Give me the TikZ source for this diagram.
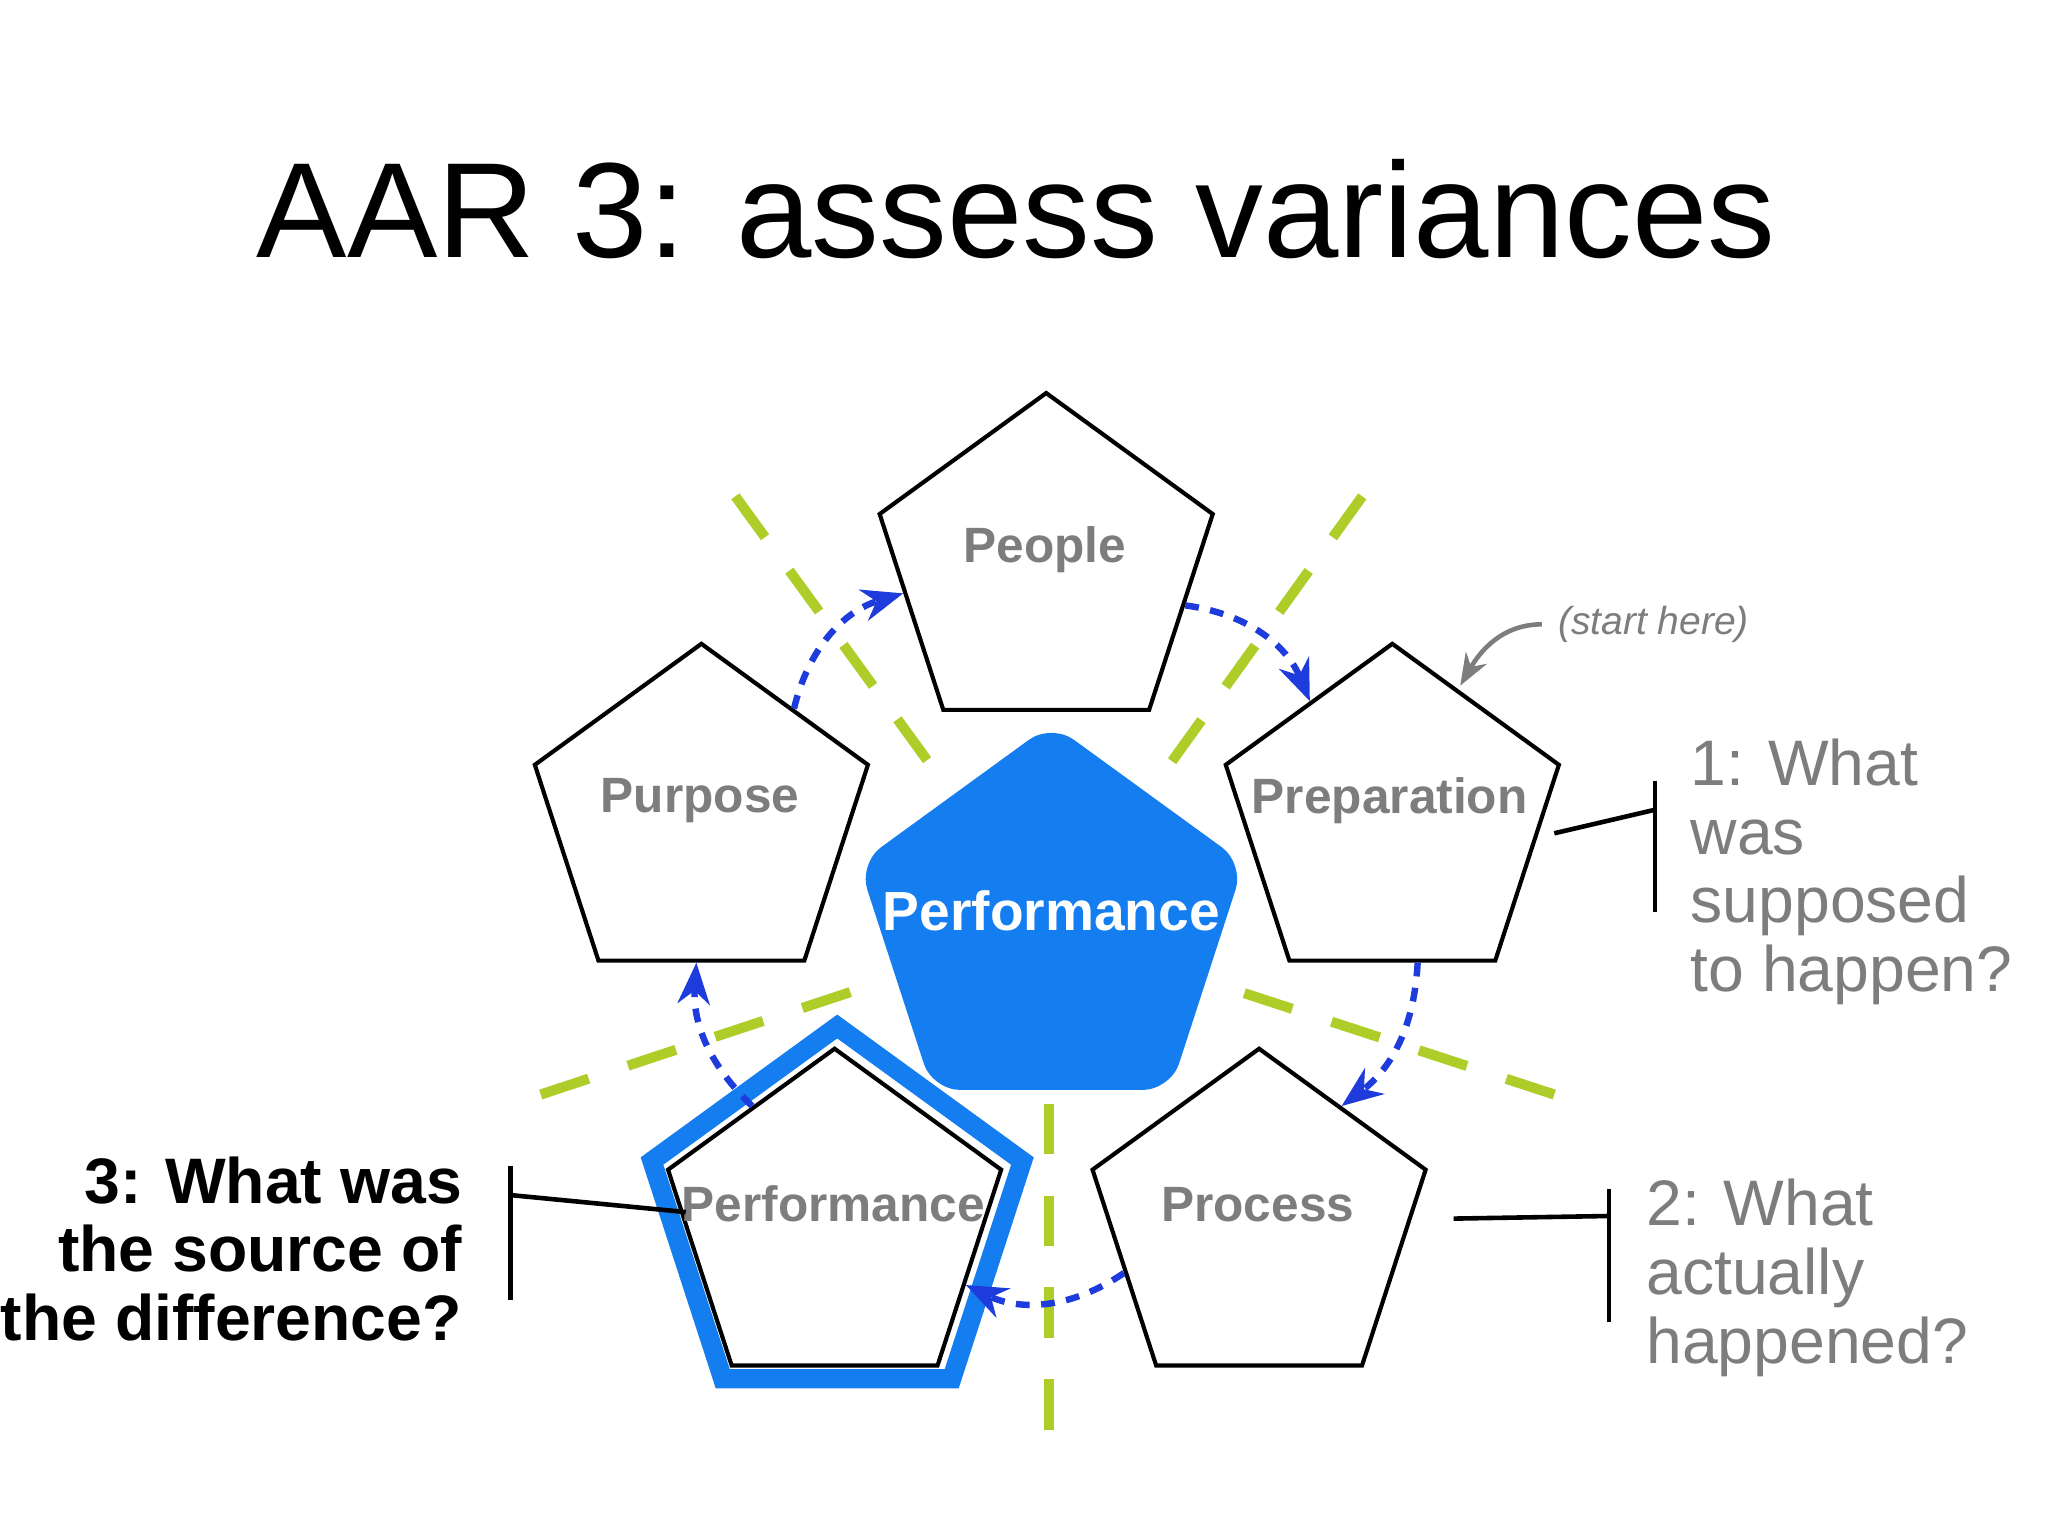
\documentclass[tikz,border=0pt]{standalone}
\usepackage{fontspec}
\setmainfont{Liberation Sans}
\usetikzlibrary{shapes.geometric,arrows.meta}
\definecolor{pblue}{RGB}{20,125,240}
\definecolor{ygreen}{RGB}{175,205,40}
\definecolor{dblue}{RGB}{30,60,220}
\definecolor{gtext}{RGB}{125,125,125}
\begin{document}
\begin{tikzpicture}[x=0.01cm,y=-0.01cm,
 pent/.style={draw=black,line width=0.9pt,regular polygon,regular polygon sides=5,inner sep=0pt,font=\fontsize{10.8}{12}\selectfont\bfseries,text=gtext},
 gl/.style={draw=ygreen,line width=2.2pt,dash pattern=on 11pt off 9pt},
 ba/.style={draw=dblue,line width=1.4pt,dash pattern=on 3pt off 2.5pt,-{Stealth[length=9pt,width=7pt]}},
 q/.style={font=\fontsize{14}{17}\selectfont,text=gtext,align=left,anchor=north west},
 br/.style={draw=black,line width=1pt}]
\useasboundingbox (0,0) rectangle (1568,1176);
\node[font=\fontsize{29.5}{34}\selectfont] (title) at (778,160) {AAR 3: assess variances};
% green lines
\draw[gl] (563,380) -- (728,607);
\draw[gl] (1043,380) -- (880,607);
\draw[gl] (414,838) -- (680,750);
\draw[gl] (1190,838) -- (930,753);
\draw[gl] (803,845) -- (803,1122);
% center
\node[regular polygon,regular polygon sides=5,fill=pblue,minimum size=3.1cm,inner sep=0pt,rounded corners=6pt] (center) at (805,709) {};
\node[text=white,font=\fontsize{12}{14}\selectfont\bfseries] (perfc) at (805,697) {Performance};
\node[pent,minimum size=2.68cm] (people) at (801,435) {};
\node[pent,minimum size=2.68cm] (purpose) at (537,627) {};
\node[pent,minimum size=2.68cm] (prep) at (1066,627) {};
\node[pent,minimum size=2.68cm] (process) at (964,937) {};
\node[pent,minimum size=2.68cm] (perf) at (639,937) {};
\node[regular polygon,regular polygon sides=5,draw=pblue,line width=4.2pt,minimum size=2.98cm,inner sep=0pt] (hl) at (641,935) {};
\node[pent,draw=none] (tpeople) at (800,421) {People};
\node[pent,draw=none] (tpurpose) at (536,613) {Purpose};
\node[pent,draw=none] (tprep) at (1064,613) {Preparation};
\node[pent,draw=none] (tprocess) at (963,922) {Process};
\node[pent,draw=none] (tperf) at (638,922) {Performance};
% blue arrows
\draw[ba] (purpose.50) to[bend left=30] (people.190);
\draw[ba] (people.-15) to[bend left=30] (prep.125);
\draw[ba] (prep.-80) to[bend left=25] (process.55);
\draw[ba] (process.200) to[bend left=30] (perf.-25);
\draw[ba] (perf.125) to[bend left=25] (purpose.-92);
% start here
\node[font=\fontsize{8.5}{10}\selectfont\itshape,text=gtext] (start) at (1266,478) {(start here)};
\draw[draw=gtext,line width=1pt,-{Stealth[length=7pt]}] (start.west) to[out=180,in=60] (1118,525);
% right questions
\coordinate (b1a) at (1267,598); \coordinate (b1b) at (1267,698); \coordinate (b1m) at (1267,620);
\draw[br] (b1a) -- (b1b); \draw[br] (1190,638) -- (b1m);
\node[q] (q1) at (1282,553) {1: What\\[-2pt]was\\[-2pt]supposed\\[-2pt]to happen?};
\coordinate (b2a) at (1232,910); \coordinate (b2b) at (1232,1012); \coordinate (b2m) at (1232,931);
\draw[br] (b2a) -- (b2b); \draw[br] (1113,933) -- (b2m);
\node[q] (q2) at (1248,890) {2: What\\[-2pt]actually\\[-2pt]happened?};
\coordinate (b3a) at (391,893); \coordinate (b3b) at (391,995); \coordinate (b3m) at (391,915);
\draw[br] (b3a) -- (b3b); \draw[br] (b3m) -- (525,928);
\node[font=\fontsize{14}{17}\selectfont\bfseries,align=right,anchor=north east] (q3) at (366,873) {3: What was\\[-2pt]the source of\\[-2pt]the difference?};
\end{tikzpicture}
\end{document}
